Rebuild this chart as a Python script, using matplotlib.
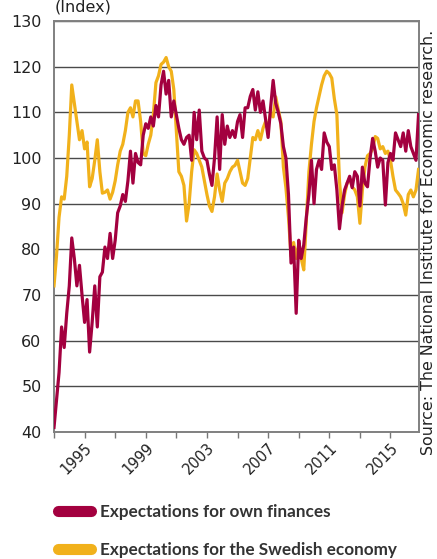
import matplotlib
matplotlib.use('Agg')
import matplotlib.pyplot as plt
from matplotlib.lines import Line2D
import pandas as pd

# Hushållens förväntningar, index, värden varannan månad jan 1993 - nov 2016
dates = pd.date_range('1993-01-01', periods=144, freq='2MS')

own_finances = [
    41, 47, 53, 63, 58.5, 66,            # 1993
    72, 82.5, 78, 72, 76.5, 70,          # 1994
    64, 69, 57.5, 64, 72, 63,            # 1995
    74, 75, 80.5, 78, 83.5, 78,          # 1996
    82, 88, 89.5, 92, 90.5, 95,          # 1997
    101.5, 94.5, 101, 99, 98.5, 105,     # 1998
    107.5, 106.5, 109, 107, 111.5, 109,  # 1999
    116, 119, 114, 117, 109, 112.5,      # 2000
    109.5, 106.5, 104, 103, 104.5, 105,  # 2001
    99.5, 110, 104, 110.5, 101.5, 100,   # 2002
    99.5, 96.5, 94, 100, 109, 97.5,      # 2003
    109.5, 103, 107, 104.5, 106, 104.5,  # 2004
    108, 109.5, 104.5, 111, 111, 113.5,  # 2005
    115, 110.5, 114.5, 110, 112.5, 108.5,  # 2006
    104.5, 111, 117, 112, 110, 107.5,    # 2007
    102.5, 100, 92, 77, 80.5, 66,        # 2008
    82, 78, 81, 87, 92, 99.5,            # 2009
    90, 97.5, 99.5, 97.5, 105.5, 103.5,  # 2010
    102.5, 97.5, 98.5, 93, 84.5, 89.5,   # 2011
    93, 94.5, 96, 93.5, 97, 96,          # 2012
    89.5, 98, 94.5, 93.7, 100, 104.3,    # 2013
    101.5, 98, 100, 99.5, 89.7, 99,      # 2014
    101, 99.5, 105.5, 104, 102.5, 105.5,  # 2015
    101.5, 106, 102.5, 101, 99.5, 109.5,  # 2016
]

swedish_economy = [
    72, 78.5, 87, 91.5, 91, 96,          # 1993
    105, 116, 112, 108, 104, 106,        # 1994
    102, 103.5, 93.7, 95.5, 99.5, 104,   # 1995
    97, 92.3, 92.5, 93, 91, 92.5,        # 1996
    95, 98.5, 101.5, 103, 106, 110,      # 1997
    111, 109, 112.5, 112.5, 108, 101,    # 1998
    100.5, 103, 105, 109.5, 116.5, 118,  # 1999
    120.5, 121, 122, 120, 119, 115,      # 2000
    106, 97, 96, 94, 86.2, 90,           # 2001
    97, 101.8, 101, 99.5, 98, 95,        # 2002
    92, 89.5, 88.3, 91.5, 96.5, 93,      # 2003
    90.5, 94.5, 95.5, 97, 98, 98.4,      # 2004
    99.5, 97, 94.5, 94, 95.5, 100,       # 2005
    104.5, 104, 106, 104, 106.5, 108,    # 2006
    107, 109.8, 109, 113.4, 110.5, 108,  # 2007
    98, 93.5, 87, 78.5, 81.5, 78,        # 2008
    81, 78, 75.5, 86, 97, 103,           # 2009
    108, 111, 113.5, 116, 118, 119,      # 2010
    118.5, 117.5, 113, 109.5, 95, 88,    # 2011
    92, 94.5, 95.5, 93.7, 93, 91.5,      # 2012
    85.7, 93, 98, 100.5, 101, 102,       # 2013
    104.7, 104.3, 102, 102.5, 101, 101.5,  # 2014
    99.5, 96, 93, 92.3, 91.5, 90,        # 2015
    87.5, 92, 93, 91.5, 93, 97.5,        # 2016
]

labels = ['Expectations for own finances', 'Expectations for the Swedish economy']
colors = ['#a3003f', '#f1b11b']

tick_years = list(range(1993, 2017, 2))
tick_labels = [str(y) if (y - 1995) % 4 == 0 else '' for y in tick_years]
y_ticks = list(range(40, 131, 10))

plt.rcParams['font.family'] = ['DejaVu Sans']

fig = plt.figure(figsize=(4.37, 5.59), dpi=100)
ax = fig.add_axes([0.1236, 0.2272, 0.8352, 0.7352])

ax.plot(dates, swedish_economy, color=colors[1], lw=2.3, zorder=3)
ax.plot(dates, own_finances, color=colors[0], lw=2.3, zorder=4)

ax.set_ylim(40, 130)
ax.set_xlim(pd.Timestamp('1993-01-01'), pd.Timestamp('2016-11-12'))
ax.set_yticks(y_ticks)
ax.set_xticks([pd.Timestamp(f'{y}-01-01') for y in tick_years])
ax.set_xticklabels(tick_labels, rotation=45, ha='right', rotation_mode='anchor')

ax.yaxis.grid(True, color='#4a4a4a', lw=1)
ax.set_axisbelow(True)
ax.tick_params(axis='y', length=0, pad=9, labelsize=11.5, labelcolor='#222222')
ax.tick_params(axis='x', length=4, width=1, color='#777777', pad=2,
               labelsize=10.5, labelcolor='#222222')
for s in ax.spines.values():
    s.set_color('#808080')
    s.set_linewidth(1.4)

fig.text(0.125, 1 - 11 / 559, '(Index)', fontsize=11.5, color='#222222',
         ha='left', va='baseline')
fig.text(0.981, 0.567, 'Source: The National Institute for Economic research.',
         rotation=90, fontsize=11.4, color='#222222', ha='center', va='center')

handles = [Line2D([], [], color=c, lw=8, solid_capstyle='round') for c in colors]
fig.legend(handles, labels, loc='upper left', bbox_to_anchor=(0.113, 0.113),
           frameon=False, handlelength=1.95, handletextpad=0.5, labelspacing=1.28,
           borderpad=0, prop={'family': 'Lato', 'weight': 'bold', 'size': 12.3},
           labelcolor='#333333')

fig.savefig('out.png', dpi=100)
